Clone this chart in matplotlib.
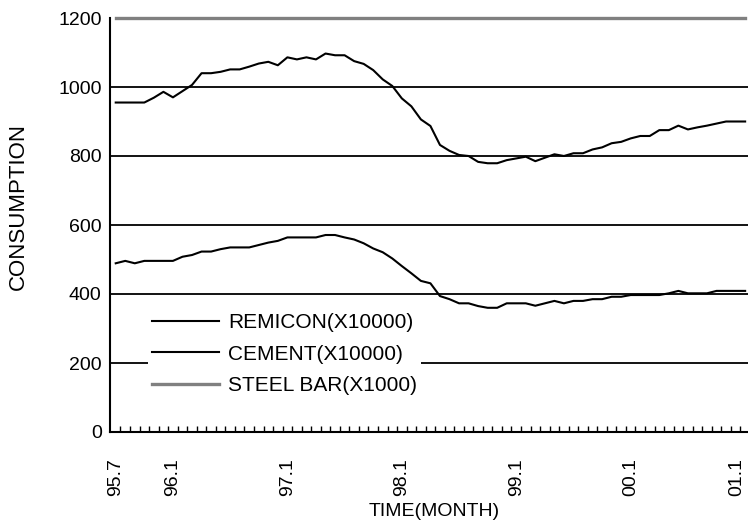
import numpy as np
import matplotlib
matplotlib.use("Agg")
import matplotlib.pyplot as plt

plt.rcParams["font.family"] = ["Liberation Sans", "DejaVu Sans"]

# monthly values, 95.7 .. 01.1 (67 months)
remicon = [955, 955, 955, 955, 969, 986, 970, 988, 1006, 1040,
           1040, 1044, 1051, 1051, 1059, 1068, 1073, 1063, 1086, 1080,
           1086, 1080, 1097, 1092, 1092, 1075, 1067, 1049, 1022, 1003,
           967, 944, 906, 887, 832, 815, 803, 800, 783, 779,
           779, 788, 793, 798, 785, 795, 805, 800, 808, 808,
           819, 825, 837, 841, 851, 858, 858, 875, 875, 888,
           877, 883, 888, 894, 900, 900, 900]
cement = [489, 496, 489, 496, 496, 496, 496, 508, 513, 523,
          523, 530, 535, 535, 535, 542, 549, 554, 564, 564,
          564, 564, 571, 571, 564, 558, 547, 532, 521, 503,
          481, 460, 438, 431, 394, 385, 373, 373, 365, 360,
          360, 373, 373, 373, 366, 373, 380, 373, 380, 380,
          385, 385, 392, 392, 397, 397, 397, 397, 402, 409,
          402, 402, 402, 409, 409, 409, 409]
# steel bar sits on the top edge of the plot (clipped at 1200)
steel_bar = [1200] * 67

tick_pos = [0, 6, 18, 30, 42, 54, 66]
tick_labels = ["95.7", "96.1", "97.1", "98.1", "99.1", "00.1", "01.1"]
y_ticks = [0, 200, 400, 600, 800, 1000, 1200]

months = np.arange(len(remicon))

fig = plt.figure(figsize=(7.48, 5.26), dpi=100)
ax = fig.add_axes([110 / 748, 94 / 526, 638 / 748, 414 / 526])

for y in y_ticks[1:-1]:
    ax.axhline(y, color="black", linewidth=1.3, zorder=1)

ax.plot(months, remicon, color="black", linewidth=1.5, label="REMICON(X10000)", zorder=3)
ax.plot(months, cement, color="black", linewidth=1.5, label="CEMENT(X10000)", zorder=3)
ax.plot(months, steel_bar, color="#808080", linewidth=2.4, label="STEEL BAR(X1000)",
        zorder=3, clip_on=False)

ax.set_xlim(-0.6, 66.3)
ax.set_ylim(0, 1200)
ax.set_yticks(y_ticks)
ax.tick_params(axis="y", length=0, pad=6, labelsize=14)
ax.set_xticks(tick_pos)
ax.set_xticklabels(tick_labels, rotation=90)
ax.tick_params(axis="x", which="major", length=0, pad=19, labelsize=14)
ax.get_xticklabels()[-1].set_horizontalalignment("right")
ax.set_xticks(np.arange(0.5, 66, 1), minor=True)
ax.tick_params(axis="x", which="minor", direction="in", length=4, width=1)

for s in ["top", "right"]:
    ax.spines[s].set_visible(False)
for s in ["left", "bottom"]:
    ax.spines[s].set_linewidth(1.5)

ax.set_ylabel("CONSUMPTION", fontsize=16)
ax.yaxis.set_label_coords(18 / 748, 1 - 207 / 526, transform=fig.transFigure)
ax.set_xlabel("TIME(MONTH)", fontsize=14)
ax.xaxis.set_label_coords(434 / 748, 14 / 526, transform=fig.transFigure)
ax.xaxis.label.set_verticalalignment("center")
ax.yaxis.label.set_verticalalignment("center")

leg = ax.legend(loc="upper left", bbox_to_anchor=(148 / 748, 1 - 309 / 526),
                bbox_transform=fig.transFigure, fontsize=15, frameon=True,
                fancybox=False, edgecolor="none", facecolor="white", framealpha=1,
                handlelength=3.2, handletextpad=0.45, labelspacing=0.6,
                borderpad=0.2, borderaxespad=0)
leg.set_zorder(4)

fig.savefig("out.png", dpi=100)
